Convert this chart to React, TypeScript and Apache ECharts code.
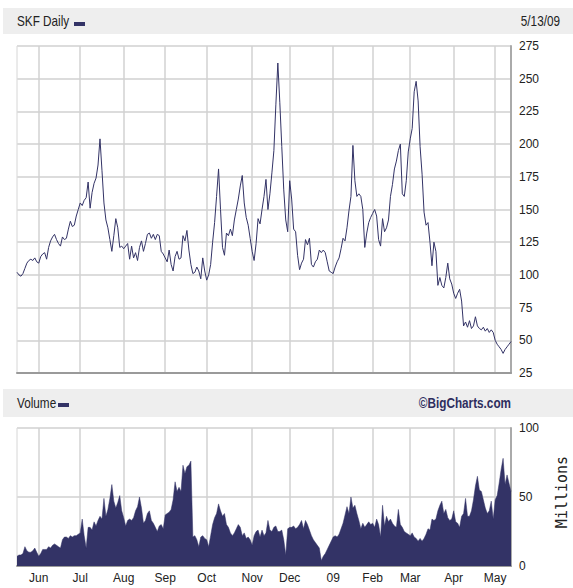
import { useEffect, useRef } from "react";
import * as echarts from "echarts";

const monthLabels = ["", "Jun", "Jul", "Aug", "Sep", "Oct", "Nov", "Dec", "09", "Feb", "Mar", "Apr", "May"];
const tradingDaysPerMonth = [11, 21, 22, 21, 21, 23, 19, 22, 20, 19, 22, 21, 9];

const priceTicks = { min: 25, max: 275, interval: 25 };
const volumeTicks = { min: 0, max: 100, interval: 50 };

const price = [
  102, 100, 99, 101, 105, 109, 111, 112, 111, 113,
  110, 109, 114, 116, 117, 112, 121, 126, 129, 131,
  127, 124, 122, 129, 127, 128, 135, 141, 137, 138,
  145, 150, 155, 153, 157, 159, 171, 151, 163, 170,
  174, 184, 204, 180, 155, 142, 136, 127, 118, 130,
  143, 136, 121, 122, 120, 122, 124, 112, 122, 113,
  117, 111, 121, 126, 118, 124, 131, 132, 128, 131,
  127, 131, 130, 118, 116, 113, 110, 119, 108, 103,
  114, 118, 112, 113, 130, 126, 134, 119, 108, 101,
  102, 106, 103, 97, 113, 103, 96, 100, 108, 125,
  140, 160, 181, 150, 121, 115, 132, 130, 135, 130,
  142, 150, 158, 168, 176, 155, 144, 138, 128, 118,
  111, 124, 143, 139, 150, 160, 173, 150, 162, 178,
  195, 230, 262, 232, 198, 165, 142, 133, 172, 158,
  135, 133, 115, 104, 109, 112, 127, 123, 128, 108,
  106, 110, 112, 119, 117, 119, 117, 110, 103, 102,
  101, 106, 110, 113, 120, 128, 126, 136, 149, 160,
  199, 172, 160, 162, 160, 150, 121, 132, 140, 144,
  147, 150, 145, 127, 122, 143, 133, 136, 142, 160,
  169, 181, 187, 195, 200, 162, 160, 172, 194, 204,
  212, 240, 248, 233, 198, 177, 148, 138, 140, 125,
  107, 125, 118, 92, 98, 92, 90, 98, 109, 97,
  93, 86, 82, 86, 89, 80, 61, 64, 60, 65,
  59, 61, 68, 61, 59, 58, 60, 57, 59, 56,
  58, 56, 50, 47, 45, 43, 40, 43, 45, 47,
  49,
];

const volume = [
  7, 8, 8, 9, 14, 11, 10, 10, 11, 13,
  10, 7, 9, 12, 12, 12, 14, 13, 15, 16,
  15, 14, 13, 19, 21, 21, 20, 22, 21, 22,
  22, 23, 24, 34, 22, 13, 28, 28, 26, 32,
  29, 33, 36, 34, 49, 36, 41, 49, 59, 47,
  42, 46, 51, 40, 35, 29, 33, 34, 33, 35,
  40, 43, 50, 42, 31, 33, 38, 40, 33, 31,
  28, 25, 29, 30, 27, 37, 38, 39, 41, 48,
  61, 54, 57, 54, 73, 67, 72, 73, 76, 21,
  22, 19, 14, 21, 22, 20, 19, 14, 22, 30,
  35, 38, 45, 40, 36, 38, 30, 28, 24, 22,
  24, 27, 30, 28, 22, 24, 20, 21, 19, 15,
  22, 25, 26, 21, 26, 22, 24, 33, 26, 25,
  28, 29, 25, 25, 26, 19, 8, 27, 28, 28,
  29, 27, 28, 30, 33, 27, 33, 30, 26, 22,
  19, 17, 15, 13, 4, 7, 9, 12, 15, 18,
  21, 22, 21, 23, 27, 31, 37, 43, 38, 50,
  42, 44, 38, 33, 27, 31, 28, 30, 32, 30,
  31, 28, 34, 30, 21, 44, 29, 36, 32, 34,
  31, 29, 28, 41, 30, 28, 25, 24, 23, 22,
  24, 21, 20, 18, 20, 18, 20, 23, 27, 26,
  34, 33, 34, 40, 44, 47, 38, 41, 35, 33,
  34, 40, 32, 31, 28, 36, 38, 49, 36, 36,
  40, 48, 58, 65, 55, 54, 48, 42, 38, 40,
  47, 34, 48, 51, 60, 70, 78, 59, 66, 60,
  54,
];

const NAVY = "#333366";
const FONT = '"Liberation Sans", Arial, sans-serif';

export default function App() {
  const ref = useRef<HTMLDivElement>(null);

  useEffect(() => {
    document.body.style.margin = "0";
    if (!ref.current) return;
    const chart = echarts.init(ref.current, undefined, { renderer: "svg" });

    const categories: string[] = [];
    const labelAt: Record<number, string> = {};
    tradingDaysPerMonth.forEach((n, m) => {
      for (let d = 0; d < n; d++) {
        if (d === 0 && m > 0) labelAt[categories.length] = monthLabels[m];
        categories.push(`m${m}d${d}`);
      }
    });
    const isStart = (i: number) => labelAt[i] !== undefined;

    const axisText = { color: "#222", fontFamily: FONT, fontSize: 12 };

    const xBase = (gridIndex: number, showLabels: boolean) => ({
      type: "category",
      gridIndex,
      data: categories,
      boundaryGap: false,
      axisLine: { show: true, onZero: false, lineStyle: { color: "#9a9a9a", width: 2 } },
      axisTick: { show: false },
      axisLabel: showLabels
        ? {
            show: true,
            interval: (i: number) => isStart(i),
            formatter: (_v: string, i: number) => labelAt[i] ?? "",
            margin: 6,
            ...axisText,
          }
        : { show: false },
      splitLine: {
        show: true,
        interval: (i: number) => isStart(i),
        lineStyle: { color: "#d2d2d2", width: 1.5 },
      },
    });

    const yBase = (gridIndex: number, t: { min: number; max: number; interval: number }) => ({
      type: "value",
      gridIndex,
      position: "right",
      min: t.min,
      max: t.max,
      interval: t.interval,
      axisLine: { show: true, lineStyle: { color: "#aaaaaa", width: 2 } },
      axisTick: { show: false },
      axisLabel: { show: true, margin: 8, ...axisText },
      splitLine: { show: true, lineStyle: { color: "#dcdcdc", width: 2 } },
    });

    const headText = (text: string, x: number, y: number, align: string, bold = false, fill = "#222") => ({
      type: "text",
      x,
      y,
      scaleX: 0.84,
      style: {
        text,
        fill,
        font: `${bold ? "bold " : ""}14px ${FONT}`,
        align,
        verticalAlign: "middle",
      },
    });

    chart.setOption({
      animation: false,
      backgroundColor: "#ffffff",
      grid: [
        { left: 17, top: 46, width: 494, height: 327, show: true, borderColor: "#d6d6d6", borderWidth: 1 },
        { left: 17, top: 428, width: 494, height: 138, show: true, borderColor: "#d6d6d6", borderWidth: 1 },
      ],
      xAxis: [xBase(0, false), xBase(1, true)],
      yAxis: [yBase(0, priceTicks), yBase(1, volumeTicks)],
      series: [
        {
          type: "line",
          xAxisIndex: 0,
          yAxisIndex: 0,
          data: price,
          symbol: "none",
          lineStyle: { color: NAVY, width: 1 },
          z: 3,
        },
        {
          type: "line",
          xAxisIndex: 1,
          yAxisIndex: 1,
          data: volume,
          symbol: "none",
          lineStyle: { color: NAVY, width: 0.5 },
          areaStyle: { color: NAVY, opacity: 1 },
          z: 3,
        },
      ],
      graphic: [
        { type: "rect", shape: { x: 3, y: 8, width: 570, height: 26 }, style: { fill: "#eeeeee" } },
        headText("SKF Daily", 17, 21, "left"),
        { type: "rect", shape: { x: 74, y: 22, width: 11, height: 4 }, style: { fill: NAVY } },
        headText("5/13/09", 560, 21, "right"),
        { type: "rect", shape: { x: 3, y: 389, width: 570, height: 28 }, style: { fill: "#eeeeee" } },
        headText("Volume", 17, 403, "left"),
        { type: "rect", shape: { x: 58, y: 403, width: 11, height: 4 }, style: { fill: NAVY } },
        headText("©BigCharts.com", 511, 403, "right", true, "#2e2e5e"),
        {
          type: "text",
          x: 562,
          y: 492,
          rotation: Math.PI / 2,
          style: {
            text: "Millions",
            fill: "#222",
            font: '15px "DejaVu Sans Mono", monospace',
            align: "center",
            verticalAlign: "middle",
          },
        },
      ],
    });

    return () => chart.dispose();
  }, []);

  return <div ref={ref} style={{ width: 573, height: 588 }} />;
}
